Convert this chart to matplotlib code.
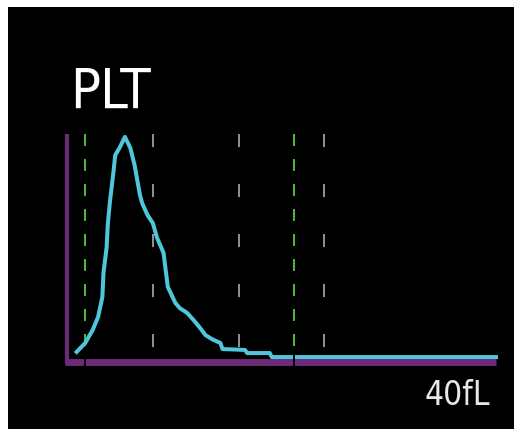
import matplotlib.pyplot as plt
from matplotlib.patches import Rectangle

# PLT volume histogram (x in fL, y relative count)
volume_fl = [0.9, 1.7, 2.4, 2.9, 3.3, 3.4, 3.7, 3.8, 4.0, 4.3, 4.5, 4.9, 5.4,
             5.9, 6.3, 6.8, 7.0, 7.5, 8.0, 8.4, 9.0, 9.4, 10.1, 10.5, 11.2,
             11.8, 12.4, 12.9, 13.5, 14.3, 14.5, 16.6, 16.8, 18.9, 19.1, 40.0]
rel_count = [2.7, 6.7, 12.6, 18.4, 27.4, 38.1, 49.8, 59.6, 70.0, 82.1, 91.0,
             94.2, 99.1, 94.2, 86.5, 73.1, 69.5, 64.1, 60.5, 53.8, 47.1, 31.8,
             24.7, 22.4, 20.2, 17.0, 13.5, 10.3, 8.5, 6.7, 4.0, 3.6, 2.2, 2.2,
             0.4, 0.4]

grid_fl = [8, 16, 24]             # grey reference lines
discriminators_fl = [1.7, 21.2]   # green discriminator lines

X_MAX = 40
Y_LO, Y_HI = -5.4, 102.2
TOP = 100.4

plt.rcParams["lines.scale_dashes"] = False

W, H = 516, 432
fig = plt.figure(figsize=(W / 100, H / 100), dpi=100, facecolor="white")

# black screen area, kept behind the axes
fig.patches.append(Rectangle((8 / W, 3 / H), (514 - 8) / W, (425 - 3) / H,
                             transform=fig.transFigure, facecolor="black",
                             edgecolor="none", zorder=-10))

ax = fig.add_axes([67 / W, (H - 370) / H, (496 - 67) / W, 240 / H])
ax.set_xlim(0, X_MAX)
ax.set_ylim(Y_LO, Y_HI)
ax.axis("off")

purple = "#6C2A78"
ax.plot([0, 0], [TOP, -2.5], color=purple, lw=3.0, solid_capstyle="butt", clip_on=False, zorder=2)
ax.plot([-0.2, X_MAX], [-1.6, -1.6], color=purple, lw=5.0, solid_capstyle="butt", clip_on=False, zorder=2)

for x in grid_fl:
    ax.plot([x, x], [TOP, 2.0], color="#8C9696", lw=1.4, dashes=(9.4, 26.6), clip_on=False, zorder=3)
for x in discriminators_fl:
    ax.plot([x, x], [TOP, 2.0], color="#4FBE3A", lw=1.4, dashes=(8.6, 9.4), clip_on=False, zorder=3)
    # notch through the baseline
    ax.plot([x, x], [2.5, -4.0], color="black", lw=1.4, clip_on=False, zorder=5)

ax.plot(volume_fl, rel_count, color="#4FC6DA", lw=2.9, clip_on=False, zorder=4)

fig.text(70 / W, (H - 108) / H, "PLT", color="white", fontsize=40,
         family="DejaVu Sans", fontstretch="condensed", ha="left", va="baseline")
fig.text(490 / W, (H - 405) / H, "40fL", color="#E8E8E8", fontsize=24,
         family="DejaVu Sans", fontstretch="condensed", ha="right", va="baseline")

fig.savefig("out.png", dpi=100, facecolor="white")
